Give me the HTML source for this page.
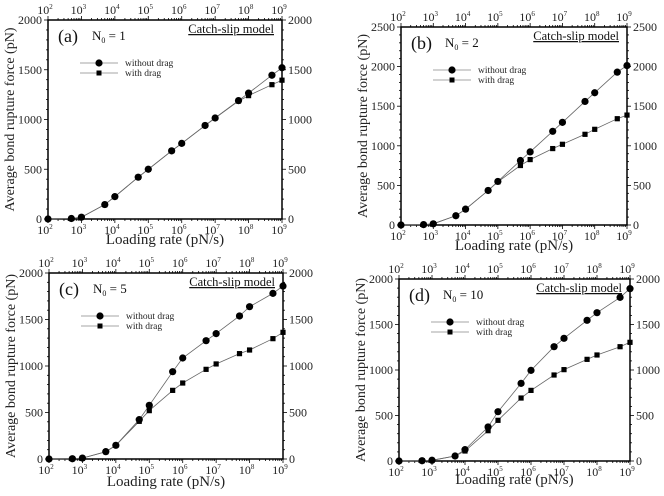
<!DOCTYPE html>
<html><head><meta charset="utf-8"><style>
body{margin:0;background:#fff}
svg, svg text{font-family:"Liberation Serif","DejaVu Serif",serif}
</style></head><body>
<svg id="c" width="664" height="491" viewBox="0 0 664 491" font-family="Liberation Serif, serif"></svg>
<script>
const rates=[1e2,5e2,1e3,5e3,1e4,5e4,1e5,5e5,1e6,5e6,1e7,5e7,1e8,5e8,1e9];
const aWithout=[0,5,18,145,225,420,500,685,760,940,1015,1190,1265,1445,1520];
const aWith=[0,5,18,145,225,420,500,685,760,940,1015,1185,1240,1350,1395];
const bWithout=[0,5,15,117,200,436,550,814,923,1183,1296,1560,1670,1930,2013];
const bWith=[0,5,15,117,200,436,545,751,826,965,1019,1145,1208,1342,1388];
const cWithout=[0,3,10,79,147,423,577,939,1086,1272,1348,1538,1638,1781,1860];
const cWith=[0,3,10,79,147,405,520,738,817,964,1022,1133,1172,1294,1362];
const dWithout=[0,3,8,55,125,374,542,853,996,1256,1348,1546,1630,1798,1894];
const dWith=[0,3,8,55,110,333,447,692,776,945,1004,1117,1165,1256,1304];
const yTicksA=[0,500,1000,1500,2000];
const yTicksB=[0,500,1000,1500,2000,2500];
const xExps=[2,3,4,5,6,7,8,9];
const panels=[
 {id:'a',label:'(a)',n:'1',L:48,R:282,T:20,B:219,ymax:2000,yt:yTicksA,w:aWithout,d:aWith,xo:25},
 {id:'b',label:'(b)',n:'2',L:401,R:627,T:27,B:225,ymax:2500,yt:yTicksB,w:bWithout,d:bWith,xo:25},
 {id:'c',label:'(c)',n:'5',L:49,R:283,T:273,B:459,ymax:2000,yt:yTicksA,w:cWithout,d:cWith,xo:27},
 {id:'d',label:'(d)',n:'10',L:399,R:630,T:279,B:461,ymax:2000,yt:yTicksA,w:dWithout,d:dWith,xo:23}];
const svg=document.getElementById('c');
const NS='http://www.w3.org/2000/svg';
function mk(tag,attrs,parent,txt){const e=document.createElementNS(NS,tag);for(const k in attrs)e.setAttribute(k,attrs[k]);if(tag==='text')e.setAttribute('font-family','Liberation Serif, serif');if(txt!==undefined)e.textContent=txt;parent.appendChild(e);return e;}
panels.forEach(p=>{
 const g=mk('g',{},svg);
 
 
 const xs=v=>p.L+(Math.log10(v)-2)/7*(p.R-p.L);
 const ys=v=>p.B-v/p.ymax*(p.B-p.T);
 const fr=mk('rect',{x:p.L,y:p.T,width:p.R-p.L,height:p.B-p.T,fill:'none',stroke:'#000','stroke-width':1.5},g);
 
 
 for(let e=2;e<=9;e++){
  for(let m=1;m<10;m++){
   if(e===9&&m>1)break;
   const x=xs(m*Math.pow(10,e));const len=m===1?4:2;
   mk('line',{x1:x,x2:x,y1:p.B,y2:p.B+len,stroke:'#000','stroke-width':0.8},g);
   mk('line',{x1:x,x2:x,y1:p.T,y2:p.T-len,stroke:'#000','stroke-width':0.8},g);
  }
 }
 xExps.forEach(e=>{
  const x=xs(Math.pow(10,e));
  const t1=mk('text',{x:x-3,y:p.B+15,'font-size':12,'text-anchor':'middle',fill:'#222'},g);
  
  
  t1.textContent='10';
  mk('tspan',{'font-size':7,dy:-5},t1,String(e));
  const t2=mk('text',{x:x-3,y:p.T-6,'font-size':12,'text-anchor':'middle',fill:'#222'},g);
  
  
  t2.textContent='10';
  mk('tspan',{'font-size':7,dy:-5},t2,String(e));
 });
 for(let v=0;v<=p.ymax;v+=100){
  const y=ys(v);const major=v%500===0;const len=major?4:2;
  mk('line',{x1:p.L-len,x2:p.L,y1:y,y2:y,stroke:'#000','stroke-width':0.8},g);
  mk('line',{x1:p.R,x2:p.R+len,y1:y,y2:y,stroke:'#000','stroke-width':0.8},g);
 }
 p.yt.forEach(v=>{
  const y=ys(v);
  const t=mk('text',{x:p.L-6,y:y+4,'font-size':12,'text-anchor':'end',fill:'#222'},g,String(v));
  
  
  const t2=mk('text',{x:p.R+6,y:y+4,'font-size':12,'text-anchor':'start',fill:'#222'},g,String(v));
  
  
 });
 const yt=mk('text',{x:0,y:0,'font-size':14,'text-anchor':'middle',fill:'#222',transform:`translate(${p.L-34},${(p.T+p.B)/2}) rotate(-90)`},g,'Average bond rupture force (pN)');
 
 
 const xt=mk('text',{x:(p.L+p.R)/2,y:p.B+p.xo,'font-size':15,'text-anchor':'middle',fill:'#222'},g,'Loading rate (pN/s)');
 
 
 const pl=mk('text',{x:p.L+10,y:p.T+22,'font-size':18,fill:'#111'},g,p.label);
 
 
 const nt=mk('text',{x:p.L+44,y:p.T+20,'font-size':13,fill:'#111'},g,'N');
 
 
 mk('tspan',{'font-size':8,dy:3},nt,'0');
 mk('tspan',{dy:-3},nt,' = '+p.n);
 const cs=mk('text',{x:p.R-8,y:p.T+13,'font-size':12.5,'text-anchor':'end',fill:'#111','text-decoration':'underline'},g,'Catch-slip model');
 
 
 const line=(arr)=>arr.map((v,i)=>xs(rates[i]).toFixed(1)+','+ys(v).toFixed(1)).join(' ');
 const l1=mk('polyline',{points:line(p.d),fill:'none',stroke:'#666','stroke-width':0.8},g);
 
 
 const l2=mk('polyline',{points:line(p.w),fill:'none',stroke:'#666','stroke-width':0.8},g);
 
 
 p.d.forEach((v,i)=>{
  const r=mk('rect',{x:xs(rates[i])-2.6,y:ys(v)-2.6,width:5.2,height:5.2,fill:'#000'},g);
  
  
 });
 p.w.forEach((v,i)=>{
  const c=mk('circle',{cx:xs(rates[i]),cy:ys(v),r:3.6,fill:'#000'},g);
  
  
 });
 const lx=p.L+32,ly=p.T+43;
 const lg=mk('g',{},g);
 
 
 mk('line',{x1:lx,x2:lx+38,y1:ly,y2:ly,stroke:'#888','stroke-width':0.8},lg);
 mk('circle',{cx:lx+19,cy:ly,r:3.6,fill:'#000'},lg);
 mk('text',{x:lx+45,y:ly+3,'font-size':9.5,fill:'#222'},lg,'without drag');
 mk('line',{x1:lx,x2:lx+38,y1:ly+10,y2:ly+10,stroke:'#888','stroke-width':0.8},lg);
 mk('rect',{x:lx+16.5,y:ly+7.5,width:5,height:5,fill:'#000'},lg);
 mk('text',{x:lx+45,y:ly+13,'font-size':9.5,fill:'#222'},lg,'with drag');
});
</script>
</body></html>
